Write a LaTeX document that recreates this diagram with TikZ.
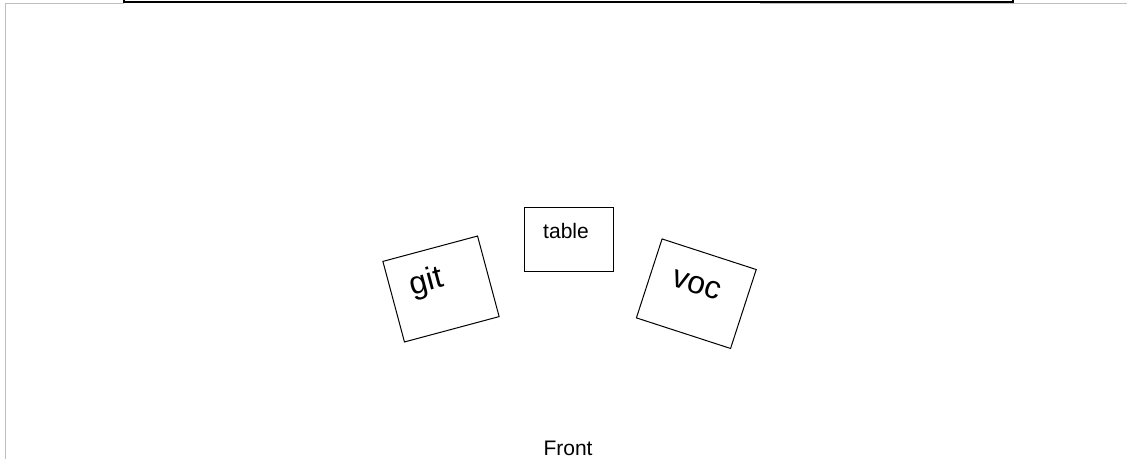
\documentclass[tikz,border=0pt]{standalone}
\usepackage{fontspec}
\setmainfont{Liberation Sans}
\begin{document}
\begin{tikzpicture}[x=0.5pt,y=-0.5pt]
\tikzset{seat/.style={shape=rectangle,draw,line width=0.5pt,inner sep=0pt},
  small/.style={font=\fontsize{10.5}{12}\selectfont},
  big/.style={font=\fontsize{16}{19}\selectfont}}
\useasboundingbox (0,0) rectangle (1127,459);
\clip (0,0) rectangle (1127,459);

% room frame
\draw[black!25,line width=0.8pt] (5.5,459) -- (5.5,3.5) -- (124,3.5);
\draw[black!25,line width=0.8pt] (760,3.5) -- (1127,3.5);
\draw[line width=0.7pt] (124,-10) rectangle (1013,2);

\node(table) at (568.8,239.2)[seat,minimum width=44.5pt,minimum height=32pt]{};
\node(git) at (441,289)[seat,rotate=15,minimum width=49pt,minimum height=41.7pt]{};
\node(voc) at (696.3,293.7)[seat,rotate=-18,minimum width=49.5pt,minimum height=41.5pt]{};

\node(tabletext) at (566,231)[small]{table};
\node(gittext) at (426.7,283)[big,rotate=15]{git};
\node(voctext) at (696.7,285)[big,rotate=-18]{voc};
\node(front) at (568,448)[small]{Front};

\end{tikzpicture}
\end{document}
